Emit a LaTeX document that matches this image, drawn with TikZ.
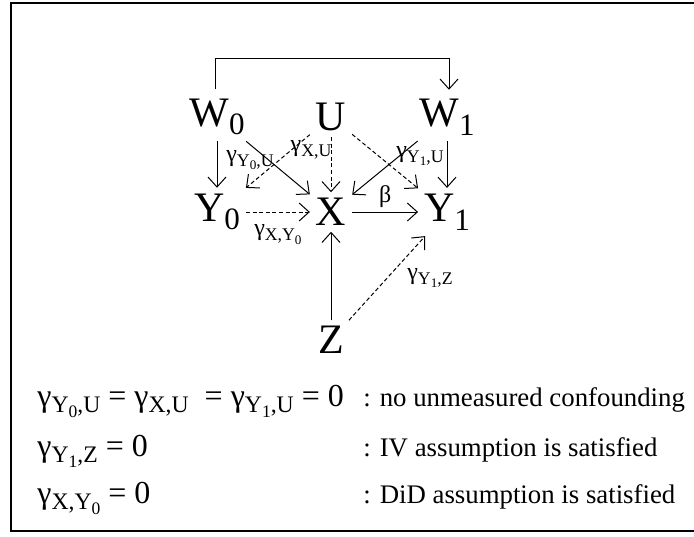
\documentclass[tikz,border=0pt]{standalone}
\usepackage{fontspec}
\setmainfont{Liberation Serif}
\usetikzlibrary{arrows.meta,positioning}
\newcommand{\lowsub}[1]{\raisebox{-0.45ex}{\scalebox{0.74}{#1}}}

\begin{document}
\begin{tikzpicture}[x=0.5pt, y=-0.5pt,
  var/.style={font=\fontsize{21}{23}\selectfont, inner sep=1pt, outer sep=2pt},
  lbl/.style={font=\fontsize{12}{13}\selectfont, inner sep=1pt},
  frm/.style={font=\fontsize{16}{18}\selectfont, anchor=base west, inner sep=0pt},
  txt/.style={font=\fontsize{13.4}{15}\selectfont, anchor=base west, inner sep=0pt},
  arr/.style={-{Straight Barb[length=5pt,width=9pt]}, line width=0.5pt},
  darr/.style={arr, dash pattern=on 2pt off 1.3pt}]
\useasboundingbox (0,0) rectangle (694,536);
\draw[line width=1pt] (11,3) rectangle (710,531);

\node[var] (W0) at (217,117) {W\lowsub{0}};
\node[var] (U)  at (331,117) {U};
\node[var] (W1) at (447,117) {W\lowsub{1}};
\node[var] (Y0) at (217,212) {Y\lowsub{0}};
\node[var] (X)  at (331,212) {X};
\node[var] (Y1) at (447,212) {Y\lowsub{1}};
\node[var] (Z)  at (331,340) {Z};

\draw[arr] (W0.north) ++(-2,-4) |- ++(234,-30) -- ++(0,31);
\draw[arr] (W0) -- (Y0);
\draw[arr] (W0) -- (X);
\draw[arr] (W1) -- (X);
\draw[arr] (W1) -- (Y1);
\draw[darr] (U) -- (Y0);
\draw[darr] (U) -- (X);
\draw[darr] (U) -- (Y1);
\draw[darr] (Y0) -- node[lbl, below=5pt] {γ\lowsub{X,Y\lowsub{0}}} (X);
\draw[arr] (X) -- node[lbl, above=1pt] {β} (Y1);
\draw[arr] (Z) -- (X);
\draw[darr] (Z) -- (Y1);

\node[lbl] at (250,160) {γ\lowsub{Y\lowsub{0},U}};
\node[lbl] at (311,150) {γ\lowsub{X,U}};
\node[lbl] at (420,156) {γ\lowsub{Y\lowsub{1},U}};
\node[lbl] at (430,278) {γ\lowsub{Y\lowsub{1},Z}};

\node[frm] (e1) at (37,406) {γ\lowsub{Y\lowsub{0},U} = γ\lowsub{X,U} \ = γ\lowsub{Y\lowsub{1},U} = 0};
\node[frm] (e2) at (37,456) {γ\lowsub{Y\lowsub{1},Z} = 0};
\node[frm] (e3) at (37,503) {γ\lowsub{X,Y\lowsub{0}} = 0};
\node[txt] (t1) at (363,406) {: no unmeasured confounding};
\node[txt] (t2) at (363,456) {: IV assumption is satisfied};
\node[txt] (t3) at (363,503) {: DiD assumption is satisfied};
\end{tikzpicture}
\end{document}
